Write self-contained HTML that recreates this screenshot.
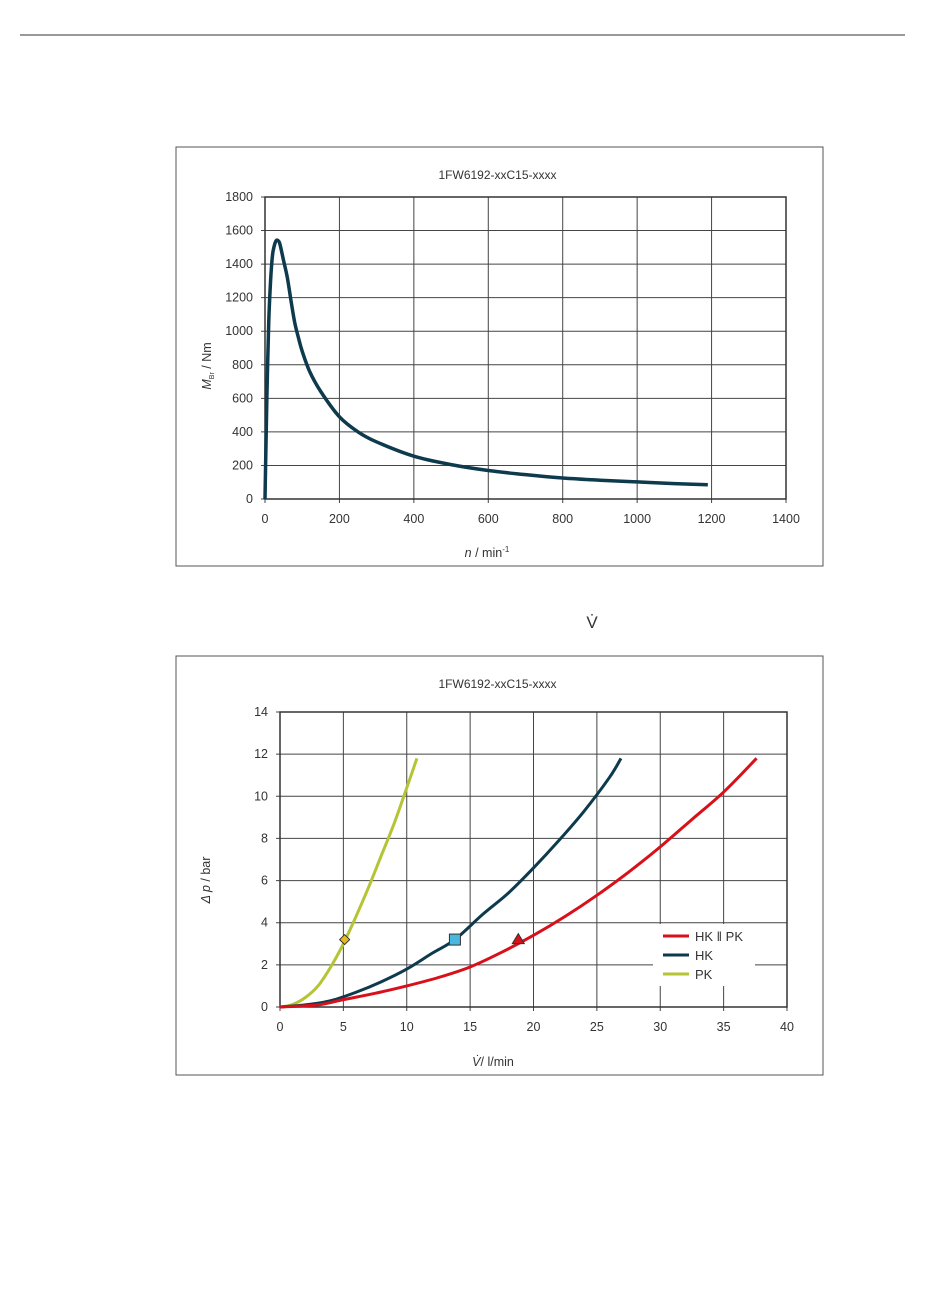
<!DOCTYPE html>
<html><head><meta charset="utf-8">
<style>
body{margin:0;background:#fff;width:950px;height:1302px;overflow:hidden;font-family:"Liberation Sans",sans-serif;}
svg text{font-family:"Liberation Sans",sans-serif;fill:#333;}
</style></head>
<body>
<svg width="950" height="1302">
<line x1="20" y1="35" x2="905" y2="35" stroke="#333" stroke-width="1"/>
<text x="592" y="628" font-size="17" text-anchor="middle">V̇</text>
<g id="c1"></g>
<g id="c2"></g>
</svg>
<script>
const NS="http://www.w3.org/2000/svg";
// Chart 1 data
const speedN=[0,2,5,10,15,20,25,30,35,40,50,60,70,80,90,100,120,150,200,250,300,400,500,600,700,800,900,1000,1100,1190];
const torqueM=[0,250,600,1050,1300,1450,1510,1540,1540,1520,1420,1320,1180,1050,960,880,760,640,490,400,340,255,205,170,145,125,112,102,92,85];
const xTicks1=[0,200,400,600,800,1000,1200,1400];
const yTicks1=[0,200,400,600,800,1000,1200,1400,1600,1800];
// Chart 2 data
const flowRed=[0,3,5,7.5,10,12.5,15,17.5,20,22.5,25,27.5,30,32.5,35,37.6];
const dpRed=[0,0.1,0.35,0.65,1.0,1.4,1.9,2.6,3.4,4.3,5.3,6.4,7.6,8.9,10.2,11.8];
const flowBlue=[0,2,4,6,8,10,12,13.8,16,18,20,22,24,26,26.9];
const dpBlue=[0,0.1,0.3,0.7,1.2,1.8,2.55,3.2,4.4,5.4,6.6,7.9,9.3,10.9,11.8];
const flowYel=[0,1,2,3,4,5,6,7,8,9,10,10.8];
const dpYel=[0,0.12,0.45,1.0,1.9,3.0,4.3,5.7,7.2,8.7,10.4,11.8];
const markerX=[5.1,13.8,18.8];
const markerY=[3.2,3.2,3.2];
const xTicks2=[0,5,10,15,20,25,30,35,40];
const yTicks2=[0,2,4,6,8,10,12,14];

function el(tag,attrs,parent){const e=document.createElementNS(NS,tag);for(const k in attrs)e.setAttribute(k,attrs[k]);parent.appendChild(e);return e;}
function smooth(pts){let d="M"+pts[0][0]+","+pts[0][1];for(let i=0;i<pts.length-1;i++){const p0=pts[Math.max(0,i-1)],p1=pts[i],p2=pts[i+1],p3=pts[Math.min(pts.length-1,i+2)];const c1=[p1[0]+(p2[0]-p0[0])/6,p1[1]+(p2[1]-p0[1])/6],c2=[p2[0]-(p3[0]-p1[0])/6,p2[1]-(p3[1]-p1[1])/6];d+=" C"+c1+" "+c2+" "+p2;}return d;}

function frame(g,x0,y0,w,h,title){
  const r=el('rect',{x:x0,y:y0,width:w,height:h,fill:'#fff',stroke:'#555','stroke-width':1},g);
  
  
  const t=el('text',{x:x0+w/2-2,y:y0+32,'font-size':12,'text-anchor':'middle'},g);t.textContent=title;
  
  
}
function axes(g,L,R,T,B,xt,yt,xs,ys){
  xt.forEach(v=>{const x=xs(v);const l=el('line',{x1:x,y1:T,x2:x,y2:B+4,stroke:'#444','stroke-width':1},g);
    
    
    const t=el('text',{x:x,y:B+24,'font-size':12.5,'text-anchor':'middle'},g);t.textContent=v;
    
    });
  yt.forEach(v=>{const y=ys(v);const l=el('line',{x1:L-4,y1:y,x2:R,y2:y,stroke:'#444','stroke-width':1},g);
    
    
    const t=el('text',{x:L-12,y:y+4,'font-size':12.5,'text-anchor':'end'},g);t.textContent=v;
    
    });
  const b=el('rect',{x:L,y:T,width:R-L,height:B-T,fill:'none',stroke:'#333','stroke-width':1.5},g);
  
  
}
// Chart 1
(function(){
  const g=document.getElementById('c1');
  frame(g,176,147,647,419,'1FW6192-xxC15-xxxx');
  const L=265,R=786,T=197,B=499;
  const xs=v=>L+(v/1400)*(R-L), ys=v=>B-(v/1800)*(B-T);
  axes(g,L,R,T,B,xTicks1,yTicks1,xs,ys);
  const p=el('path',{d:smooth(speedN.map((n,i)=>[xs(n),ys(torqueM[i])])),fill:'none',stroke:'#0d3a4c','stroke-width':3.5},g);
  
  
  const xl=el('text',{x:487,y:557,'font-size':12.5,'text-anchor':'middle'},g);
  xl.innerHTML='<tspan font-style="italic">n</tspan> / min<tspan font-size="8" dy="-5">-1</tspan>';
  
  
  const yl=el('text',{x:0,y:0,'font-size':12.5,'text-anchor':'middle',transform:'translate(211,366) rotate(-90)'},g);
  yl.innerHTML='<tspan font-style="italic">M</tspan><tspan font-size="7" dy="3">Br</tspan><tspan dy="-3"> / Nm</tspan>';
  
  
})();
// Chart 2
(function(){
  const g=document.getElementById('c2');
  frame(g,176,656,647,419,'1FW6192-xxC15-xxxx');
  const L=280,R=787,T=712,B=1007;
  const xs=v=>L+(v/40)*(R-L), ys=v=>B-(v/14)*(B-T);
  axes(g,L,R,T,B,xTicks2,yTicks2,xs,ys);
  const series=[[flowYel,dpYel,'#b5c435','pk-curve'],[flowBlue,dpBlue,'#0d3a4c','hk-curve'],[flowRed,dpRed,'#d7101a','hk-pk-curve']];
  series.forEach(s=>{const p=el('path',{d:smooth(s[0].map((x,i)=>[xs(x),ys(s[1][i])])),fill:'none',stroke:s[2],'stroke-width':3},g);
    
    });
  let x=xs(markerX[0]),y=ys(markerY[0]);
  const m1=el('polygon',{points:`${x},${y-5} ${x+5},${y} ${x},${y+5} ${x-5},${y}`,fill:'#e8b820',stroke:'#333','stroke-width':1},g);
  
  
  x=xs(markerX[1]);y=ys(markerY[1]);
  const m2=el('rect',{x:x-5.5,y:y-5.5,width:11,height:11,fill:'#4ab8de',stroke:'#333','stroke-width':1},g);
  
  
  x=xs(markerX[2]);y=ys(markerY[2]);
  const m3=el('polygon',{points:`${x},${y-6} ${x+6},${y+4} ${x-6},${y+4}`,fill:'#d7101a',stroke:'#333','stroke-width':1},g);
  
  
  const lg=el('rect',{x:653,y:924,width:102,height:62,fill:'#fff'},g);
  
  
  [['HK || PK','#d7101a'],['HK','#0d3a4c'],['PK','#b5c435']].forEach((e,i)=>{
    const yy=936+i*19;
    const l=el('line',{x1:663,y1:yy,x2:689,y2:yy,stroke:e[1],'stroke-width':3},g);
    
    
    const t=el('text',{x:695,y:yy+5,'font-size':13},g);t.textContent=i==0?'HK \u2016 PK':e[0];
    
    
  });
  const xl=el('text',{x:493,y:1066,'font-size':12.5,'text-anchor':'middle'},g);
  xl.innerHTML='<tspan font-style="italic">V̇</tspan>/ l/min';
  
  
  const yl=el('text',{x:0,y:0,'font-size':12.5,'text-anchor':'middle',transform:'translate(210,880) rotate(-90)'},g);
  yl.innerHTML='<tspan font-style="italic">Δ p</tspan> / bar';
  
  
})();
</script>
</body></html>
